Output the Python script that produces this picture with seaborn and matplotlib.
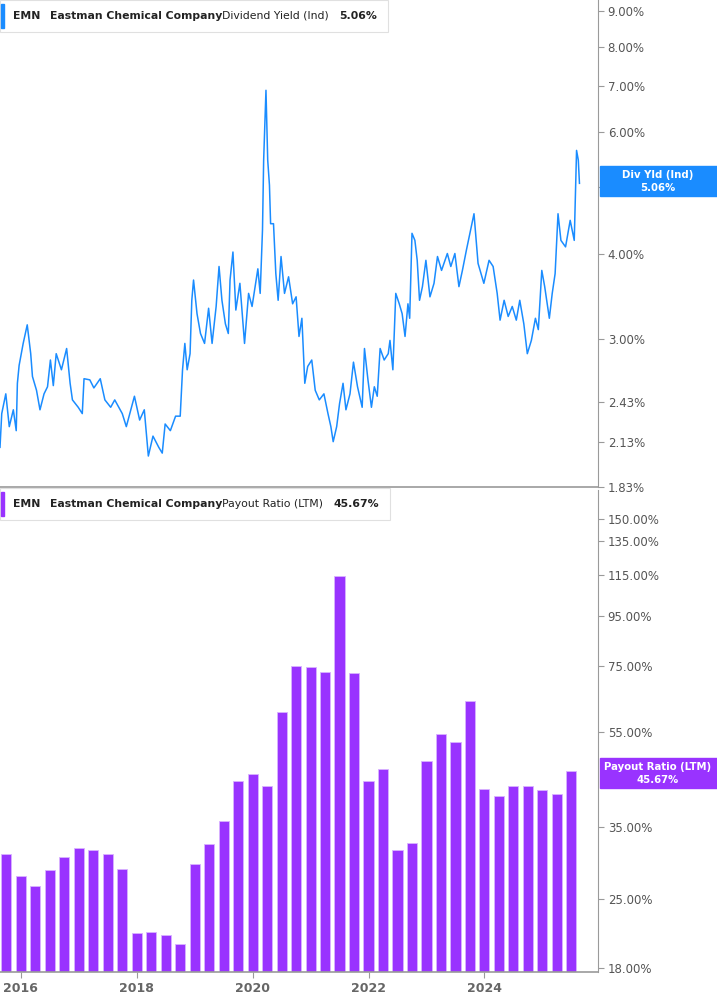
import numpy as np
import pandas as pd
import matplotlib
matplotlib.use("Agg")
import matplotlib.pyplot as plt
import seaborn as sns
from matplotlib.ticker import FixedLocator, NullLocator, FixedFormatter

# ---------------- data ----------------
yield_years = [2015.64,2015.67,2015.74,2015.80,2015.87,2015.92,2015.94,2015.97,2016.04,2016.11,2016.17,2016.20,2016.27,2016.33,2016.40,2016.46,2016.51,2016.56,2016.61,2016.70,2016.79,2016.85,2016.89,2016.99,2017.06,2017.09,2017.19,2017.26,2017.37,2017.45,2017.55,2017.62,2017.75,2017.82,2017.96,2018.05,2018.13,2018.20,2018.28,2018.38,2018.44,2018.49,2018.58,2018.67,2018.75,2018.79,2018.83,2018.87,2018.92,2018.95,2018.98,2019.04,2019.10,2019.17,2019.24,2019.30,2019.37,2019.42,2019.47,2019.53,2019.58,2019.61,2019.66,2019.71,2019.78,2019.86,2019.93,2019.99,2020.09,2020.13,2020.17,2020.19,2020.23,2020.26,2020.29,2020.31,2020.36,2020.40,2020.44,2020.49,2020.55,2020.62,2020.69,2020.75,2020.80,2020.85,2020.90,2020.95,2021.02,2021.08,2021.15,2021.23,2021.30,2021.35,2021.39,2021.45,2021.50,2021.56,2021.61,2021.68,2021.74,2021.81,2021.89,2021.93,2021.99,2022.05,2022.10,2022.15,2022.20,2022.27,2022.34,2022.37,2022.42,2022.47,2022.53,2022.58,2022.63,2022.68,2022.71,2022.75,2022.80,2022.84,2022.88,2022.93,2022.99,2023.06,2023.13,2023.19,2023.26,2023.36,2023.42,2023.49,2023.56,2023.62,2023.69,2023.75,2023.82,2023.89,2023.99,2024.08,2024.15,2024.22,2024.27,2024.34,2024.41,2024.48,2024.55,2024.61,2024.68,2024.74,2024.81,2024.88,2024.93,2024.99,2025.04,2025.12,2025.17,2025.22,2025.27,2025.32,2025.40,2025.48,2025.55,2025.59,2025.62,2025.64]
yield_vals = [2.09,2.34,2.50,2.24,2.37,2.21,2.59,2.75,2.96,3.15,2.86,2.65,2.53,2.37,2.50,2.56,2.80,2.57,2.86,2.71,2.91,2.59,2.45,2.39,2.34,2.63,2.62,2.55,2.63,2.45,2.39,2.45,2.34,2.24,2.48,2.29,2.37,2.03,2.17,2.09,2.05,2.26,2.21,2.32,2.32,2.71,2.96,2.71,2.86,3.42,3.66,3.27,3.06,2.96,3.33,2.96,3.35,3.83,3.42,3.16,3.06,3.66,4.02,3.31,3.62,2.96,3.50,3.35,3.80,3.50,4.33,5.47,6.91,5.47,5.03,4.42,4.42,3.74,3.42,3.96,3.50,3.70,3.38,3.46,3.03,3.22,2.59,2.74,2.80,2.53,2.45,2.50,2.34,2.24,2.13,2.24,2.42,2.59,2.37,2.50,2.78,2.56,2.39,2.91,2.62,2.39,2.56,2.48,2.91,2.80,2.86,2.99,2.71,3.50,3.38,3.27,3.03,3.38,3.22,4.28,4.18,3.91,3.42,3.58,3.91,3.46,3.62,3.96,3.78,4.00,3.83,4.00,3.58,3.78,4.05,4.28,4.57,3.87,3.62,3.91,3.83,3.50,3.20,3.42,3.24,3.35,3.20,3.42,3.16,2.86,2.99,3.22,3.10,3.78,3.58,3.22,3.50,3.74,4.57,4.18,4.09,4.47,4.18,5.65,5.47,5.06]

payout_quarters = [2015.75 + 0.25 * i for i in range(40)]
payout_vals = [30.9,27.9,26.5,28.7,30.4,31.7,31.5,30.9,28.8,21.3,21.4,21.1,20.2,29.4,32.4,36.1,43.6,45.1,42.6,60.4,75.0,74.7,72.9,114.5,72.6,43.6,46.2,31.4,32.6,47.9,54.4,52.4,63.6,42.0,40.6,42.6,42.6,41.8,41.0,45.67]

yield_ticks = [1.83, 2.13, 2.43, 3.00, 4.00, 5.00, 6.00, 7.00, 8.00, 9.00]
payout_ticks = [18, 25, 35, 55, 75, 95, 115, 135, 150]
year_ticks = [2016, 2018, 2020, 2022, 2024]

# ---------------- plot ----------------
BLUE = "#1a8cff"
PURPLE = "#9933ff"
GRID = "#9a9a9a"
TXT = "#555555"

fig = plt.figure(figsize=(7.17, 10.05), dpi=100)
W = 598 / 717
ax1 = fig.add_axes([0, 1 - 487 / 1005, W, 487 / 1005])
ax2 = fig.add_axes([0, 1 - 972 / 1005, W, (972 - 490) / 1005])

xlim = (2015.64, 2025.96)

df1 = pd.DataFrame({"year": yield_years, "val": yield_vals})
ax1.set_yscale("log")
sns.lineplot(data=df1, x="year", y="val", ax=ax1, color=BLUE, linewidth=1.1)
ax1.set_xlim(*xlim)
ax1.set_ylim(1.83, 9.35)

df2 = pd.DataFrame({"q": payout_quarters, "val": payout_vals})
ax2.set_yscale("log")
sns.barplot(data=df2, x="q", y="val", ax=ax2, color=PURPLE, native_scale=True,
            width=0.7, saturation=1, edgecolor="#d9b3ff", linewidth=0.6)
ax2.set_xlim(*xlim)
ax2.set_ylim(17.7, 172)

for ax, ticks in ((ax1, yield_ticks), (ax2, payout_ticks)):
    ax.set_xlabel("")
    ax.set_ylabel("")
    for s in ("top", "left"):
        ax.spines[s].set_visible(False)
    ax.spines["right"].set_color(GRID)
    ax.spines["bottom"].set_color(GRID)
    ax.spines["bottom"].set_linewidth(1.2)
    ax.yaxis.tick_right()
    ax.yaxis.set_major_locator(FixedLocator(ticks))
    ax.yaxis.set_major_formatter(FixedFormatter(["{:.2f}%".format(t) for t in ticks]))
    ax.yaxis.set_minor_locator(NullLocator())
    ax.tick_params(axis="y", colors=GRID, labelcolor=TXT, labelsize=8.5, length=4, pad=3)
    ax.grid(False)

ax1.set_xticks([])
ax2.set_xticks(year_ticks)
ax2.set_xticklabels([str(y) for y in year_ticks], fontweight="bold")
ax2.tick_params(axis="x", colors=GRID, labelcolor="#666666", labelsize=9, length=4)

# headers
def header(y_px, color, title, val, title_x, val_x, box_w):
    fy = 1 - y_px / 1005
    fig.patches.append(plt.Rectangle((0.0, fy - 0.016), box_w / 717, 0.032, transform=fig.transFigure,
                                     facecolor="white", edgecolor="#e0e0e0", linewidth=0.8, zorder=4))
    fig.patches.append(plt.Rectangle((0.001, fy - 0.012), 0.005, 0.024, transform=fig.transFigure,
                                     color=color, zorder=5))
    kw = dict(fontsize=7.8, va="center", color="#222222", zorder=6)
    fig.text(13 / 717, fy, "EMN", fontweight="bold", **kw)
    fig.text(50 / 717, fy, "Eastman Chemical Company", fontweight="bold", **kw)
    fig.text(title_x / 717, fy, title, **kw)
    fig.text(val_x / 717, fy, val, fontweight="bold", **kw)

header(16, BLUE, "Dividend Yield (Ind)", "5.06%", 222, 339, 388)
header(504, PURPLE, "Payout Ratio (LTM)", "45.67%", 222, 334, 390)

# right value tags
def tag(y_px, color, label, val):
    fy = 1 - y_px / 1005
    fig.patches.append(plt.Rectangle((600 / 717, fy - 0.015), 117 / 717, 0.030, transform=fig.transFigure,
                                     color=color, zorder=5))
    fig.text(658 / 717, fy + 0.006, label, fontsize=7.3, fontweight="bold", color="white", ha="center", va="center", zorder=6)
    fig.text(658 / 717, fy - 0.0065, val, fontsize=7.3, fontweight="bold", color="white", ha="center", va="center", zorder=6)

tag(181, BLUE, "Div Yld (Ind)", "5.06%")
tag(773, PURPLE, "Payout Ratio (LTM)", "45.67%")

fig.savefig("out.png", dpi=100)
